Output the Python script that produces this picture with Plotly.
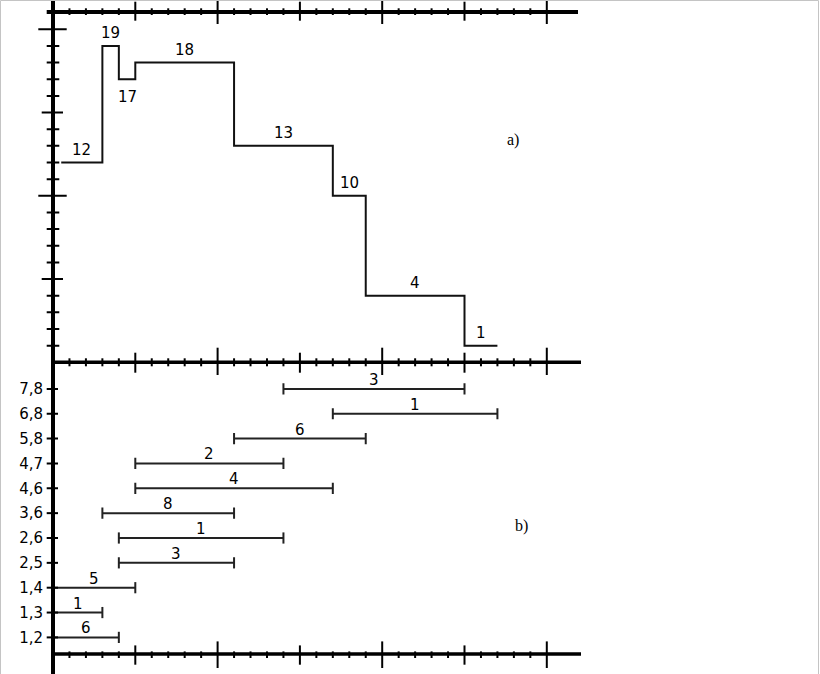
import plotly.graph_objects as go

# ---------------- data ----------------
# a) resource profile (step function)
profile_t = [0.5, 3, 4, 5, 11, 17, 19, 25, 27]     # breakpoints
profile_v = [12, 19, 17, 18, 13, 10, 4, 1]          # value on each segment

# b) intervals (activities)
act_labels = ["1,2", "1,3", "1,4", "2,5", "2,6", "3,6", "4,6", "4,7", "5,8", "6,8", "7,8"]
act_start = [0, 0, 0, 4, 4, 3, 5, 5, 11, 17, 14]
act_end = [4, 3, 5, 11, 14, 11, 17, 14, 19, 27, 25]
act_count = [6, 1, 5, 3, 1, 8, 4, 2, 6, 1, 3]

x_ticks = list(range(1, 31))
y_ticks_top = list(range(1, 21))

# ---------------- layout geometry ----------------
W, H = 820, 674
L, R, T, B = 53, 242, 12, 20
plot_w = W - L - R
plot_h = H - T - B
unit_x = 16.46
unit_y = 16.65
unit_c = 24.85
mid_px = 362.3  # pixel row of the middle axis
split = (H - B - mid_px) / plot_h
x_max = plot_w / unit_x
y_top_max = (mid_px - T) / unit_y
y2_min = -0.668
y2_max = y2_min + (H - B - mid_px) / unit_c

fig = go.Figure()

# step line
xs, ys = [], []
for i, v in enumerate(profile_v):
    xs += [profile_t[i], profile_t[i + 1]]
    ys += [v, v]
fig.add_trace(go.Scatter(x=xs, y=ys, mode="lines",
                         line=dict(color="#111", width=2), xaxis="x", yaxis="y",
                         hoverinfo="skip", showlegend=False))

# interval bars
bx, by = [], []
for i, (s, e) in enumerate(zip(act_start, act_end)):
    bx += [s, e, None]
    by += [i, i, None]
fig.add_trace(go.Scatter(x=bx, y=by, mode="lines", line=dict(color="#222", width=2),
                         xaxis="x", yaxis="y2", hoverinfo="skip", showlegend=False))
cx, cy = [], []
for i, (s, e) in enumerate(zip(act_start, act_end)):
    if s > 0:
        cx.append(s); cy.append(i)
    cx.append(e); cy.append(i)
fig.add_trace(go.Scatter(x=cx, y=cy, mode="markers",
                         marker=dict(symbol="line-ns", size=8, line=dict(color="#222", width=2)),
                         xaxis="x", yaxis="y2", hoverinfo="skip", showlegend=False))

shapes = []
BLACK = "black"

# axis lines (domain refs -> not clipped)
shapes.append(dict(type="line", xref="x domain", yref="paper", x0=0, x1=0,
                   y0=-(B + 1) / plot_h, y1=1 + (T + 1) / plot_h,
                   line=dict(color=BLACK, width=4)))
shapes.append(dict(type="line", xref="x domain", yref="y domain", x0=-6.3 / plot_w, x1=1.0,
                   y0=1, y1=1, line=dict(color=BLACK, width=4)))
shapes.append(dict(type="line", xref="x domain", yref="y domain", x0=0, x1=1 + 3 / plot_w,
                   y0=0, y1=0, line=dict(color=BLACK, width=3.5)))
shapes.append(dict(type="line", xref="x domain", yref="y2 domain", x0=0, x1=1 + 3 / plot_w,
                   y0=0, y1=0, line=dict(color=BLACK, width=3.5)))

def xtick(xv, yref, yanc, down, up):
    shapes.append(dict(type="line", xref="x", yref=yref, ysizemode="pixel", yanchor=yanc,
                       x0=xv, x1=xv, y0=-down, y1=up, line=dict(color=BLACK, width=2)))

def ytick(yv, yref, left, right):
    shapes.append(dict(type="line", xref="x domain", yref=yref, xsizemode="pixel", xanchor=0,
                       x0=-left, x1=right, y0=yv, y1=yv, line=dict(color=BLACK, width=2)))

for t in x_ticks:
    if t % 10 == 0:
        xtick(t, "y domain", 1, 12, 12)
        xtick(t, "y domain", 0, 12.7, 14.6)
        xtick(t, "y2 domain", 0, 14, 12.6)
    elif t % 5 == 0:
        xtick(t, "y domain", 1, 8.7, 10.3)
        xtick(t, "y domain", 0, 10.4, 9.6)
        xtick(t, "y2 domain", 0, 10.7, 8.6)
    else:
        xtick(t, "y domain", 1, 3, 3.7)
        xtick(t, "y domain", 0, 4, 4)
        xtick(t, "y2 domain", 0, 4, 2.6)

for t in y_ticks_top:
    if t % 10 == 0:
        ytick(t, "y", 14.7, 13.7)
    elif t % 5 == 0:
        ytick(t, "y", 11.3, 10)
    else:
        ytick(t, "y", 6.3, 6.3)

for i in range(len(act_labels)):
    ytick(i, "y2", 6.3, 5)

# light frame of the picture
frame_col = "#c4c4c4"
fx0 = -(L - 0.5) / plot_w
fx1 = (818.5 - L) / plot_w
fy1 = 1 + (T - 0.5) / plot_h
fy0 = -(B + 2) / plot_h
for (a0, a1, b0, b1) in [(fx0, fx1, fy1, fy1), (fx0, fx0, fy0, fy1), (fx1, fx1, fy0, fy1)]:
    shapes.append(dict(type="line", xref="paper", yref="paper", x0=a0, x1=a1, y0=b0, y1=b1,
                       line=dict(color=frame_col, width=1)))

# annotations
font = dict(family="DejaVu Sans", size=15, color="black")
ann = []
for i, v in enumerate(profile_v):
    xm = (profile_t[i] + profile_t[i + 1]) / 2
    below = 0 < i < len(profile_v) - 1 and profile_v[i - 1] > v < profile_v[i + 1]
    ann.append(dict(x=xm, y=v, xref="x", yref="y", text=str(v), showarrow=False,
                    font=font, yshift=-18 if below else 13))
for i, c in enumerate(act_count):
    xm = (act_start[i] + act_end[i]) / 2
    ann.append(dict(x=xm, y=i, xref="x", yref="y2", text=str(c), showarrow=False,
                    font=font, yshift=9))
ann.append(dict(x=27.95, y=13.35, xref="x", yref="y", text="a)", showarrow=False,
                font=dict(family="Liberation Serif", size=16, color="black")))
ann.append(dict(x=28.47, y=4.47, xref="x", yref="y2", text="b)", showarrow=False,
                font=dict(family="Liberation Serif", size=16, color="black")))

fig.update_layout(
    width=W, height=H, margin=dict(l=L, r=R, t=T, b=B, pad=0),
    paper_bgcolor="white", plot_bgcolor="white", showlegend=False,
    xaxis=dict(range=[0, x_max], domain=[0, 1], anchor="y2", visible=False),
    yaxis=dict(range=[0, y_top_max], domain=[split, 1], anchor="x", visible=False),
    yaxis2=dict(range=[y2_min, y2_max], domain=[0, split], anchor="x",
                tickvals=list(range(len(act_labels))), ticktext=act_labels,
                ticks="", showgrid=False, zeroline=False, showline=False,
                tickfont=dict(family="DejaVu Sans", size=15, color="black"),
                ticklabelstandoff=9),
    shapes=shapes, annotations=ann,
)

fig.write_html("out.html", post_script="document.body.style.margin='0';",
               config={"displayModeBar": False})
